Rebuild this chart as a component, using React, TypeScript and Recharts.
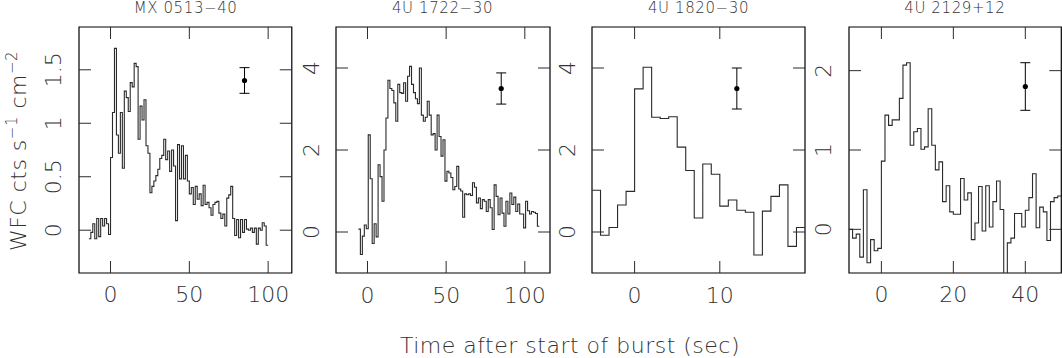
import { ComposedChart, Line, Scatter, ErrorBar, XAxis, YAxis, ReferenceArea } from 'recharts';

const FONT = '"DejaVu Sans", Verdana, sans-serif';
const INK = '#2a2a2a';
const TICK = 12;
const PLOT_TOP = 27;
const PLOT_BOTTOM = 273;
const ML = 60;
const MR = 12;
const AXIS_W = 30;
const CHART_H = 320;

// panel titles
const titles = ['MX 0513−40', '4U 1722−30', '4U 1820−30', '4U 2129+12'];

// MX 0513-40, 1.25 s bins
const mxStart = -13.75;
const mxBin = 1.25;
const mxRate = [
  -0.08, -0.02, 0.06, -0.08, 0.11, -0.06, 0.11, 0.04, 0.11, 0.06, -0.04,
  0.68, 1.10, 1.70, 0.89, 0.72, 1.10, 0.58, 1.30, 1.24, 1.11, 1.38, 1.34, 1.56, 1.53, 0.85,
  1.16, 1.03, 1.22, 0.79, 0.72, 0.35, 0.41, 0.46, 0.51, 0.57, 0.67, 0.70, 0.85, 0.66, 0.74,
  0.55, 0.75, 0.60, 0.09, 0.80, 0.48, 0.79, 0.48, 0.70, 0.46,
  0.34, 0.40, 0.24, 0.41, 0.29, 0.34, 0.23, 0.42, 0.24, 0.26, 0.21, 0.14, 0.24, 0.26, 0.27,
  0.16, 0.11, 0.15, 0.04, 0.30, 0.33, 0.41, 0.11, -0.05, 0.10, -0.07, 0.10, -0.02, 0.10,
  0.01, 0.00, 0.02, -0.02, 0.02, -0.13, 0.02, 0.00, 0.07, 0.04, -0.14,
];

// 4U 1722-30, 1.25 s bins
const u1722Start = -5.75;
const u1722Bin = 1.25;
const u1722Rate = [
  0.07, -0.55, -0.10, 0.17, 0.08, 2.37, 1.30, -0.28, 0.20, -0.12, 1.64, 1.35, 0.75, 2.00,
  2.78, 3.70, 3.50, 3.45, 3.15, 2.70, 3.60, 3.40, 3.38, 3.64, 3.19, 3.80, 4.04, 3.60, 3.40,
  3.25, 3.13, 4.00, 2.85, 2.70, 2.80, 3.19, 2.85, 2.37, 2.40, 2.00, 2.85, 2.33, 1.85, 2.25,
  1.24, 1.48, 1.44, 1.33, 1.03, 1.11, 1.60, 1.05, 1.00, 0.36, 0.93, 0.91, 0.93, 0.89, 1.20,
  1.09, 0.71, 0.83, 0.57, 0.79, 0.75, 0.50, 0.79, 0.59, 0.06, 1.15, 0.87, 0.42, 0.83, 0.46,
  0.14, 0.75, 0.44, 0.95, 0.67, 0.85, 0.50, 0.68, 0.44, 0.44, 0.10, 0.75, 0.52, 0.44, 0.50,
  0.48, 0.45, 0.14,
];

// 4U 1820-30, 1 s bins
const u1820Start = -5;
const u1820Bin = 1;
const u1820Rate = [
  1.02, -0.08, 0.11, 0.66, 0.99, 3.49, 4.02, 2.80, 2.77, 2.81, 2.07, 1.50, 0.34, 1.66, 1.41,
  0.63, 0.78, 0.53, 0.48, -0.56, 0.51, 0.87, 1.15, -0.35, 0.11,
];

// 4U 2129+12, 1 s bins
const u2129Start = -9;
const u2129Bin = 1;
const u2129Rate = [
  0.00, -0.11, -0.06, -0.35, 0.50, -0.42, -0.13, -0.27, -0.24,
  0.86, 1.44, 1.31, 1.38, 1.38, 1.65, 2.07, 2.10,
  1.06, 1.23, 1.27, 1.01, 1.04, 1.52, 1.06, 0.75, 0.85,
  0.35, 0.55, 0.22, 0.19, 0.19, 0.64, 0.37, 0.46,
  -0.13, 0.08, 0.54, -0.02, 0.55, 0.03, 0.35, 0.61, 0.25,
  -0.75, -0.17, -0.11,
  0.20, 0.20, 0.03, 0.24, 0.40, 0.70, 0.02, 0.28, 0.22, -0.14, 0.35, 0.40, 0.42,
];

// typical error bar shown in each panel: [time, rate, half-length]
const errMarks = [
  [85, 1.4, 0.12],
  [85, 3.5, 0.38],
  [12, 3.5, 0.5],
  [40, 1.8, 0.3],
];

const xTicks = [[0, 50, 100], [0, 50, 100], [0, 10], [0, 20, 40]];
const yTicks = [[0, 0.5, 1, 1.5], [0, 2, 4], [0, 2, 4], [0, 1, 2]];

// histogram -> stepAfter points, with a closing point at the end of the last bin
function bins(start: number, width: number, vals: number[]) {
  const rows = vals.map((v, i) => ({ x: start + i * width, y: v }));
  rows.push({ x: start + vals.length * width, y: vals[vals.length - 1] });
  return rows;
}

const panels = [
  { rows: bins(mxStart, mxBin, mxRate), left: 79.2, w: 212.8, xd: [-20, 115], yd: [-0.4, 1.9] },
  { rows: bins(u1722Start, u1722Bin, u1722Rate), left: 335.5, w: 214, xd: [-20, 116], yd: [-1, 5] },
  { rows: bins(u1820Start, u1820Bin, u1820Rate), left: 592, w: 213, xd: [-5, 20], yd: [-1, 5] },
  { rows: bins(u2129Start, u2129Bin, u2129Rate), left: 848.7, w: 212.3, xd: [-9, 50], yd: [-0.55, 2.55] },
];

const textStyle = { fontFamily: FONT, fontWeight: 200, fill: '#333' };

function Panel({ idx }: { idx: number }) {
  const p = panels[idx];
  const [ex, ey, ee] = errMarks[idx];
  const marker = [{ x: ex, y: ey, err: ee }];
  const plotLeft = ML;

  const xTick = (props: any) => {
    const { x, payload } = props;
    const y = PLOT_BOTTOM;
    return (
      <g>
        <line x1={x} x2={x} y1={y} y2={y - TICK} stroke={INK} />
        <line x1={x} x2={x} y1={PLOT_TOP} y2={PLOT_TOP + TICK} stroke={INK} />
        <text x={x} y={y + 22} textAnchor="middle" dominantBaseline="central" fontSize={22} {...textStyle}>
          {payload.value}
        </text>
      </g>
    );
  };

  const yTick = (props: any) => {
    const { y, payload } = props;
    const x = plotLeft;
    const tx = x - 25;
    return (
      <g>
        <line x1={x} x2={x + TICK} y1={y} y2={y} stroke={INK} />
        <line x1={x + p.w} x2={x + p.w - TICK} y1={y} y2={y} stroke={INK} />
        <text
          x={tx}
          y={y}
          textAnchor="middle"
          dominantBaseline="central"
          fontSize={22}
          transform={`rotate(-90 ${tx} ${y})`}
          {...textStyle}
        >
          {payload.value}
        </text>
      </g>
    );
  };

  return (
    <div style={{ position: 'absolute', left: p.left - ML, top: 0 }}>
      <ComposedChart
        width={ML + p.w + MR}
        height={CHART_H}
        margin={{ top: PLOT_TOP, right: MR, left: ML - AXIS_W, bottom: CHART_H - PLOT_BOTTOM - AXIS_W }}
      >
        <XAxis
          dataKey="x"
          type="number"
          domain={p.xd}
          ticks={xTicks[idx]}
          interval={0}
          allowDataOverflow
          height={AXIS_W}
          tickSize={0}
          axisLine={false}
          tickLine={false}
          tick={xTick}
        />
        <YAxis
          type="number"
          domain={p.yd}
          ticks={yTicks[idx]}
          interval={0}
          allowDataOverflow
          width={AXIS_W}
          tickSize={0}
          axisLine={false}
          tickLine={false}
          tick={yTick}
        />
        <ReferenceArea
          x1={p.xd[0]}
          x2={p.xd[1]}
          y1={p.yd[0]}
          y2={p.yd[1]}
          fill="none"
          fillOpacity={0}
          stroke="#000"
          strokeWidth={1.2}
        />
        <Line
          data={p.rows}
          dataKey="y"
          type="stepAfter"
          stroke={INK}
          strokeWidth={1.1}
          dot={false}
          isAnimationActive={false}
        />
        <Scatter
          data={marker}
          dataKey="y"
          fill="#000"
          isAnimationActive={false}
          shape={(s: any) => <circle cx={s.cx} cy={s.cy} r={2.6} fill="#000" />}
        >
          <ErrorBar dataKey="err" direction="y" width={5} stroke="#000" strokeWidth={1} isAnimationActive={false} />
        </Scatter>
      </ComposedChart>
      <div
        style={{
          position: 'absolute',
          left: ML,
          width: p.w,
          top: -1,
          textAlign: 'center',
          fontFamily: FONT,
          fontWeight: 200,
          fontSize: 15,
          letterSpacing: 0.6,
          color: '#333',
          whiteSpace: 'nowrap',
        }}
      >
        {titles[idx]}
      </div>
    </div>
  );
}

export default function App() {
  return (
    <div style={{ position: 'absolute', left: 0, top: 0, width: 1062, height: 358, background: '#fff', overflow: 'hidden' }}>
      {panels.map((_, i) => (
        <Panel key={i} idx={i} />
      ))}
      <svg width={1062} height={358} style={{ position: 'absolute', left: 0, top: 0, pointerEvents: 'none' }}>
        <text x={570} y={345} textAnchor="middle" dominantBaseline="central" fontSize={22} letterSpacing={0.5} {...textStyle}>
          Time after start of burst (sec)
        </text>
        <text x={26} y={151} textAnchor="middle" fontSize={22} transform="rotate(-90 26 151)" letterSpacing={0.5} {...textStyle}>
          WFC cts s
          <tspan fontSize={15} dy={-9}>−1</tspan>
          <tspan dy={9}>  cm</tspan>
          <tspan fontSize={15} dy={-9}>−2</tspan>
        </text>
      </svg>
    </div>
  );
}
